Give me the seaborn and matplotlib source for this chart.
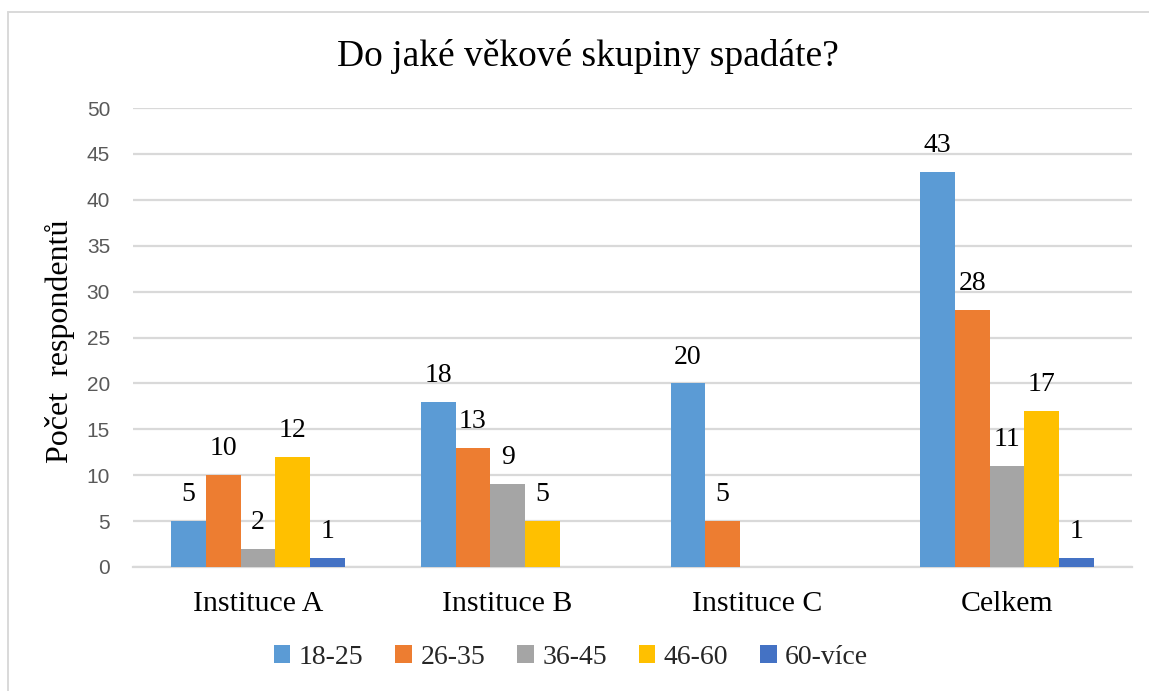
import matplotlib
matplotlib.use("Agg")
import matplotlib.pyplot as plt
import seaborn as sns
import pandas as pd
import numpy as np
from matplotlib.lines import Line2D

categories = ["Instituce A", "Instituce B", "Instituce C", "Celkem"]
groups = ["18-25", "26-35", "36-45", "46-60", "60-více"]
v_18_25 = [5, 18, 20, 43]
v_26_35 = [10, 13, 5, 28]
v_36_45 = [2, 9, 0, 11]
v_46_60 = [12, 5, 0, 17]
v_60 = [1, 0, 0, 1]
colors = ["#5B9BD5", "#ED7D31", "#A5A5A5", "#FFC000", "#4472C4"]
yticks = [0, 5, 10, 15, 20, 25, 30, 35, 40, 45, 50]

series = [v_18_25, v_26_35, v_36_45, v_46_60, v_60]
rows = []
for g, vals in zip(groups, series):
    for c, v in zip(categories, vals):
        rows.append({"cat": c, "grp": g, "val": v})
df = pd.DataFrame(rows)

sns.set_theme(style="white")
plt.rcParams["font.family"] = ["Liberation Serif", "DejaVu Serif"]

fig = plt.figure(figsize=(11.49, 6.91), dpi=100)
W, H = 1149, 691
ax = fig.add_axes([133 / W, 1 - 567 / H, (1132 - 133) / W, (567 - 108) / H])

sns.barplot(data=df, x="cat", y="val", hue="grp", order=categories,
            hue_order=groups, palette=colors, width=0.694, gap=0,
            saturation=1, ax=ax, legend=False, linewidth=0, zorder=3)

for cont in ax.containers:
    labels = [("%d" % b.get_height()) if b.get_height() > 0 else "" for b in cont]
    ax.bar_label(cont, labels=labels, padding=10, fontsize=20,
                 family=["Liberation Serif"], color="#000000")

ax.set_xlim(-0.5, 3.5)
ax.set_ylim(0, 50)
ax.set_yticks(yticks)
ax.set_yticklabels([str(t) for t in yticks], family=["Liberation Sans"],
                   fontsize=15, color="#595959")
ax.grid(axis="y", color="#D9D9D9", linewidth=1.6, zorder=0)
ax.set_axisbelow(True)
for s in ["left", "right", "top"]:
    ax.spines[s].set_visible(False)
ax.spines["bottom"].set_color("#D9D9D9")
ax.spines["bottom"].set_linewidth(1.6)
ax.tick_params(axis="y", length=0, pad=16.5)
ax.set_xticks(range(len(categories)))
ax.set_xticklabels(categories, fontsize=21.5, family=["Liberation Serif"], color="#000000")
ax.tick_params(axis="x", length=0, pad=17)
# minor ticks between categories
ax.set_xticks([-0.5, 0.5, 1.5, 2.5, 3.5], minor=True)
ax.tick_params(axis="x", which="minor", length=8, width=1.6, color="#D9D9D9", direction="out")
ax.set_xlabel("")
ax.set_ylabel("")

fig.text(60 / W, 1 - 341 / H, "Počet  respondentů", rotation=90, fontsize=23,
         ha="center", va="center", family=["Liberation Serif"], color="#000000")
fig.text(588 / W, 1 - 57 / H, "Do jaké věkové skupiny spadáte?", fontsize=27,
         ha="center", va="center", family=["Liberation Serif"], color="#000000")

handles = [plt.Rectangle((0, 0), 1, 1, facecolor=c, edgecolor="none") for c in colors]
leg = fig.legend(handles, groups, loc="center", bbox_to_anchor=(571 / W, 1 - 657 / H),
                 ncol=5, frameon=False, handlelength=0.6, handleheight=0.6,
                 handletextpad=0.3, columnspacing=1.15,
                 prop={"family": "Liberation Serif", "size": 20})

# outer frame (left and top visible)
fig.add_artist(Line2D([8 / W, 8 / W], [0, 1 - 12 / H], color="#D9D9D9", linewidth=1.4,
                      transform=fig.transFigure))
fig.add_artist(Line2D([8 / W, 1], [1 - 12 / H, 1 - 12 / H], color="#D9D9D9", linewidth=1.4,
                      transform=fig.transFigure))

fig.savefig("out.png", dpi=100)
